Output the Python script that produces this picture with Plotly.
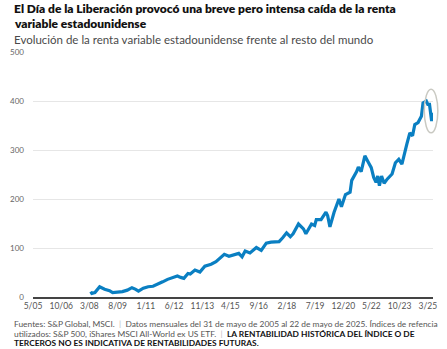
import plotly.graph_objects as go

dates = [
    "2008-03-25", "2008-04-15", "2008-06-10", "2008-09-05", "2008-12-05", "2009-03-05",
    "2009-05-01", "2009-08-01", "2009-10-28", "2010-01-25", "2010-04-20", "2010-06-20",
    "2010-08-18", "2010-11-15", "2011-02-12", "2011-05-12", "2011-08-10", "2011-11-05",
    "2012-02-03", "2012-05-01", "2012-08-01", "2012-10-01", "2012-11-28", "2013-02-12",
    "2013-03-25", "2013-06-20", "2013-09-18", "2013-12-18", "2014-04-12", "2014-07-10",
    "2014-12-10", "2015-03-05", "2015-06-03", "2015-09-01", "2015-11-01", "2015-12-28",
    "2016-03-25", "2016-07-20", "2016-10-18", "2017-01-18", "2017-04-15", "2017-09-10",
    "2017-11-15", "2018-01-25", "2018-04-05", "2018-05-25", "2018-09-01", "2018-12-01",
    "2019-01-15", "2019-04-28", "2019-06-25", "2019-07-25", "2019-10-20", "2020-01-18",
    "2020-02-18", "2020-03-31", "2020-06-15", "2020-09-12", "2020-10-28", "2021-01-10",
    "2021-04-05", "2021-05-05", "2021-08-03", "2021-09-03", "2021-10-25", "2022-01-01",
    "2022-02-28", "2022-04-28", "2022-06-12", "2022-07-25", "2022-08-25", "2022-09-25",
    "2022-11-03", "2022-12-20", "2023-02-18", "2023-05-15", "2023-07-15", "2023-09-15",
    "2023-11-12", "2024-01-10", "2024-02-10", "2024-04-05", "2024-05-25", "2024-07-05",
    "2024-09-03", "2024-11-03", "2024-12-03", "2025-02-01", "2025-03-01", "2025-04-01",
    "2025-04-25", "2025-05-10", "2025-05-22",
]
values = [
    11, 7.5, 9, 21, 16, 13,
    9, 10, 11, 14, 19, 16,
    12, 18, 21, 22, 26, 31,
    36, 40, 43, 40, 38, 48,
    47, 55, 51, 63, 67, 72,
    87, 83, 86, 89, 82, 94,
    90, 101, 95, 110, 112, 113,
    121, 131, 123, 129, 149, 139,
    129, 149, 146, 158, 158, 173,
    166, 143, 173, 200, 184, 209,
    214, 238, 256, 265, 256, 288,
    276, 264, 244, 234, 247, 227,
    247, 232, 241, 251, 274, 281,
    271, 302, 312, 335, 329, 352,
    356, 369, 396, 400, 393, 393,
    373, 359, 376,
]

tick_vals = ["2005-05-01", "2006-10-01", "2008-03-01", "2009-08-01", "2011-01-01",
             "2012-06-01", "2013-11-01", "2015-04-01", "2016-09-01", "2018-02-01",
             "2019-07-01", "2020-12-01", "2022-05-01", "2023-10-01", "2025-03-01"]
tick_text = ["5/05", "10/06", "3/08", "8/09", "1/11", "6/12", "11/13", "4/15",
             "9/16", "2/18", "7/19", "12/20", "5/22", "10/23", "3/25"]
y_ticks = [0, 100, 200, 300, 400, 500]

FONT = "Lato"
W, H = 447, 349
L, R, T, B = 24, 10, 52, 52
PW, PH = W - L - R, H - T - B


def px_x(x):
    return (x - L) / PW


def px_y(y):
    return (H - B - y) / PH


fig = go.Figure()
fig.add_trace(go.Scatter(
    x=dates, y=values, mode="lines",
    line=dict(color="#0a7fc2", width=3.2),
    hoverinfo="skip", showlegend=False,
))

fig.add_shape(type="circle", xref="paper", yref="y",
              x0=px_x(428), x1=px_x(442), y0=335, y1=424,
              line=dict(color="#c9c9c2", width=1.5))

annotations = [
    dict(text="El Día de la Liberación provocó una breve pero intensa caída de la renta",
         x=px_x(3), y=px_y(8), font=dict(size=12, color="#111111", weight=800)),
    dict(text="variable estadounidense",
         x=px_x(3), y=px_y(23.5), font=dict(size=12, color="#111111", weight=800)),
    dict(text="Evolución de la renta variable estadounidense frente al resto del mundo",
         x=px_x(3), y=px_y(39), font=dict(size=11.5, color="#4a4a4a")),
    dict(text="Fuentes: S&P Global, MSCI. <span style='color:#bbbbbb'> | </span> Datos mensuales del 31 de mayo de 2005 al 22 de mayo de 2025. Índices de refencia",
         x=px_x(3), y=px_y(323.5), font=dict(size=8.4, color="#555555")),
    dict(text="utilizados: S&P 500, iShares MSCI All-World ex US ETF. <span style='color:#bbbbbb'> | </span> <b><span style='color:#111111'>LA RENTABILIDAD HISTÓRICA DEL ÍNDICE O DE</span></b>",
         x=px_x(3), y=px_y(333.5), font=dict(size=8.4, color="#555555")),
    dict(text="<b>TERCEROS NO ES INDICATIVA DE RENTABILIDADES FUTURAS.</b>",
         x=px_x(3), y=px_y(343), font=dict(size=8.4, color="#111111")),
]
for a in annotations:
    a.update(xref="paper", yref="paper", xanchor="left", yanchor="middle",
             showarrow=False, align="left", borderpad=0)
    a["font"]["family"] = FONT
fig.update_layout(annotations=annotations)

fig.update_layout(
    width=W, height=H,
    margin=dict(l=L, r=R, t=T, b=B, pad=0),
    paper_bgcolor="white", plot_bgcolor="white",
    font=dict(family=FONT, size=8.5, color="#555555"),
    xaxis=dict(
        type="date", range=["2005-05-01", "2025-06-04"],
        tickmode="array", tickvals=tick_vals, ticktext=tick_text,
        showgrid=False, zeroline=False, showline=True,
        linecolor="#444444", linewidth=1.5, ticks="",
        tickfont=dict(size=8.5, color="#555555"),
        fixedrange=True,
    ),
    yaxis=dict(
        range=[0, 500], tickmode="array", tickvals=y_ticks,
        showgrid=True, gridcolor="#e6e6e6", gridwidth=1,
        zeroline=False, showline=False, ticks="",
        ticklabelstandoff=8,
        tickfont=dict(size=8, color="#666666"),
        fixedrange=True,
    ),
)

fig.write_html("out.html")
